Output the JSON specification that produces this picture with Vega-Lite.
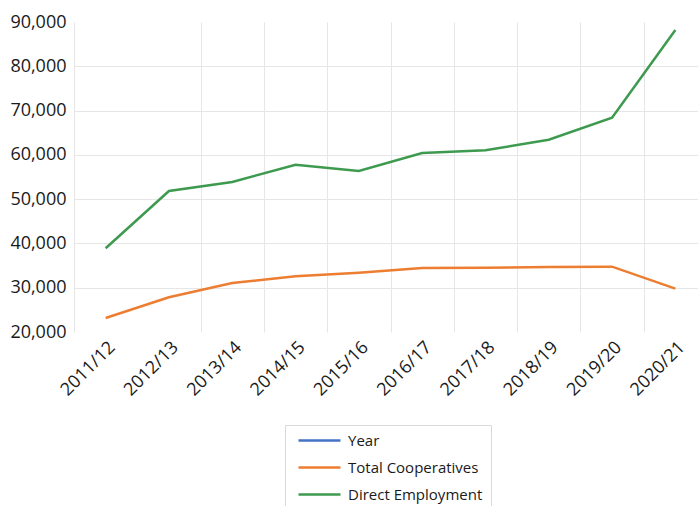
{
  "$schema": "https://vega.github.io/schema/vega-lite/v6.json",
  "width": 624,
  "height": 310,
  "autosize": {"type": "none"},
  "padding": {"left": 74, "top": 22, "right": 0, "bottom": 174},
  "config": {"view": {"stroke": null}, "font": "Open Sans"},
  "data": {
    "values": [
      {"period": "2011/12", "series": "Total Cooperatives", "value": 23160},
      {"period": "2012/13", "series": "Total Cooperatives", "value": 27830},
      {"period": "2013/14", "series": "Total Cooperatives", "value": 31060},
      {"period": "2014/15", "series": "Total Cooperatives", "value": 32570},
      {"period": "2015/16", "series": "Total Cooperatives", "value": 33400},
      {"period": "2016/17", "series": "Total Cooperatives", "value": 34450},
      {"period": "2017/18", "series": "Total Cooperatives", "value": 34480},
      {"period": "2018/19", "series": "Total Cooperatives", "value": 34680},
      {"period": "2019/20", "series": "Total Cooperatives", "value": 34750},
      {"period": "2020/21", "series": "Total Cooperatives", "value": 29780},
      {"period": "2011/12", "series": "Direct Employment", "value": 38900},
      {"period": "2012/13", "series": "Direct Employment", "value": 51840},
      {"period": "2013/14", "series": "Direct Employment", "value": 53870},
      {"period": "2014/15", "series": "Direct Employment", "value": 57780},
      {"period": "2015/16", "series": "Direct Employment", "value": 56350},
      {"period": "2016/17", "series": "Direct Employment", "value": 60420},
      {"period": "2017/18", "series": "Direct Employment", "value": 61030},
      {"period": "2018/19", "series": "Direct Employment", "value": 63430},
      {"period": "2019/20", "series": "Direct Employment", "value": 68400},
      {"period": "2020/21", "series": "Direct Employment", "value": 88190}
    ]
  },
  "mark": {"type": "line", "strokeWidth": 2.5},
  "encoding": {
    "x": {
      "field": "period",
      "type": "ordinal",
      "sort": null,
      "scale": {"type": "band", "range": [0, 633], "paddingInner": 0, "paddingOuter": 0},
      "axis": {
        "title": null,
        "tickBand": "extent",
        "labelAngle": -45,
        "labelFontSize": 18,
        "labelColor": "#1a1a1a",
        "labelPadding": 6,
        "domain": false,
        "ticks": false,
        "grid": true,
        "gridColor": {"condition": {"test": "datum.value === '2011/12'", "value": "transparent"}, "value": "#e6e6e6"},
        "gridWidth": 1
      }
    },
    "y": {
      "field": "value",
      "type": "quantitative",
      "scale": {"domain": [20000, 90000], "nice": false, "zero": false},
      "axis": {
        "title": null,
        "values": [20000, 30000, 40000, 50000, 60000, 70000, 80000, 90000],
        "format": ",.0f",
        "labelFontSize": 18,
        "labelColor": "#1a1a1a",
        "labelPadding": 8,
        "domain": false,
        "ticks": false,
        "gridColor": {"condition": {"test": "datum.value == 20000 || datum.value == 90000", "value": "transparent"}, "value": "#e6e6e6"},
        "gridWidth": 1
      }
    },
    "color": {
      "field": "series",
      "type": "nominal",
      "scale": {
        "domain": ["Year", "Total Cooperatives", "Direct Employment"],
        "range": ["#4472C4", "#ED7D31", "#3D9A4F"]
      },
      "legend": {
        "title": null,
        "orient": "none",
        "legendX": 211,
        "legendY": 403,
        "direction": "vertical",
        "symbolType": "M-0.4,0H8",
        "symbolSize": 100,
        "symbolStrokeWidth": 2.5,
        "symbolFillColor": "transparent",
        "labelFontSize": 15,
        "labelColor": "#1a1a1a",
        "labelOffset": 40,
        "rowPadding": 11,
        "padding": 8,
        "fillColor": "white",
        "strokeColor": "#d9d9d9"
      }
    }
  }
}
